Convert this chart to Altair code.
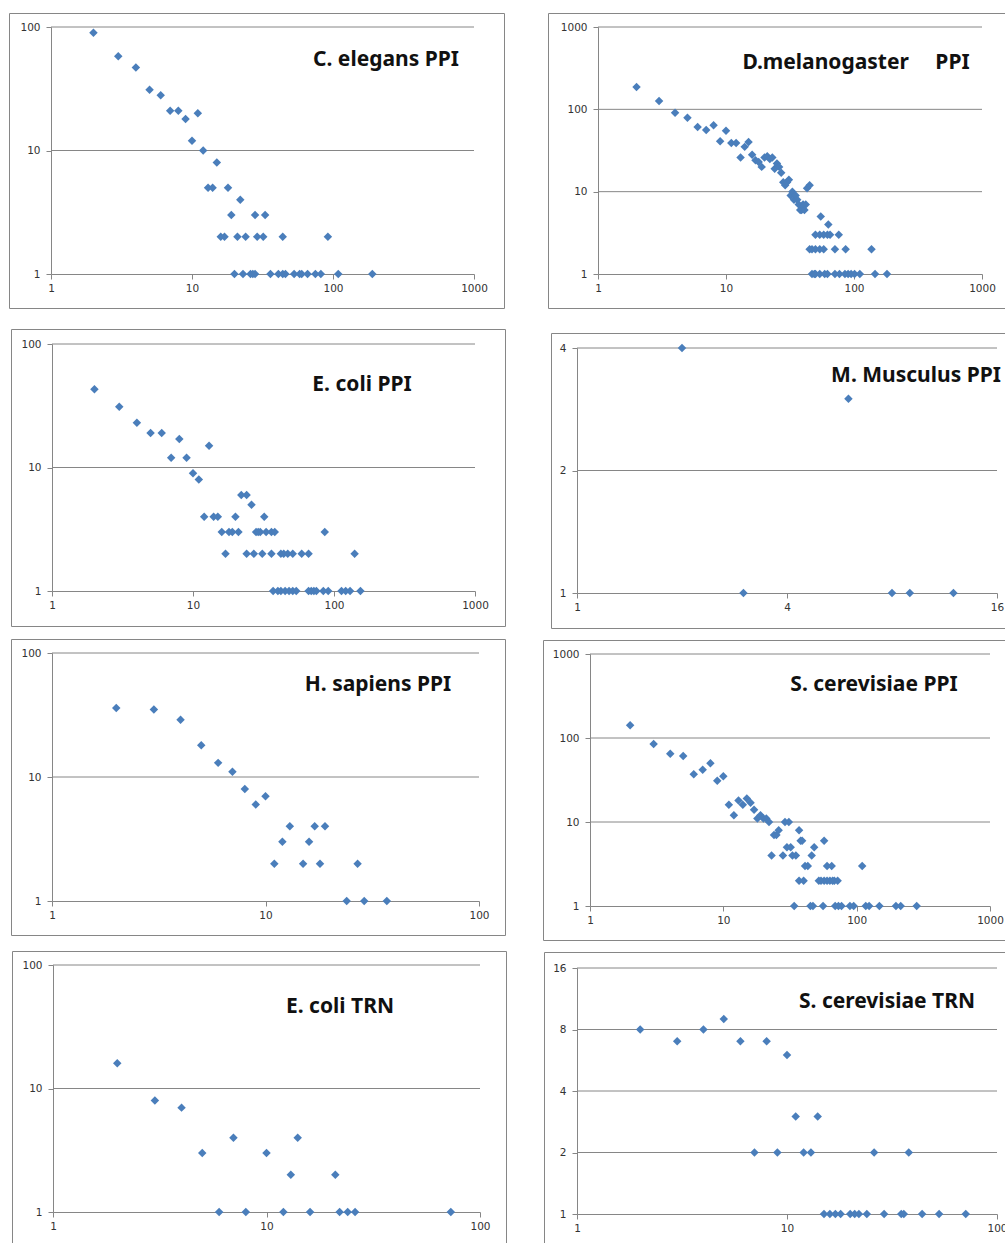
import altair as alt
import pandas as pd

# ---------------- data ----------------
ce_x = [2, 3, 4, 5, 6, 7, 8, 9, 10, 11, 12, 13, 14, 15, 16, 17, 18, 19, 21, 22, 24, 28, 29, 32, 33, 44, 92,
        20, 23, 26, 27, 28, 36, 41, 44, 46, 53, 58, 60, 66, 75, 82, 109, 190]
ce_y = [90, 58, 47, 31, 28, 21, 21, 18, 12, 20, 10, 5, 5, 8, 2, 2, 5, 3, 2, 4, 2, 3, 2, 2, 3, 2, 2,
        1, 1, 1, 1, 1, 1, 1, 1, 1, 1, 1, 1, 1, 1, 1, 1, 1]

dm_x = [2, 3, 4, 5, 6, 7, 8, 9, 10, 11, 12, 13, 14, 15, 16, 17, 18, 19, 20, 21, 22, 23, 24, 25, 26, 27,
        28, 29, 30, 31, 32, 33, 34, 35, 36, 37, 38, 39, 40, 41, 42, 43, 45, 55, 63,
        50, 54, 58, 62, 65, 76,
        45, 47, 50, 54, 58, 71, 86, 137,
        47, 49, 50, 54, 59, 62, 71, 77, 85, 90, 95, 101, 111, 146, 181]
dm_y = [187, 126, 91, 79, 61, 56, 64, 41, 55, 39, 39, 26, 35, 40, 28, 24, 23, 20, 26, 27, 25, 26, 19, 22, 20, 17,
        13, 12, 13, 14, 9, 10, 8, 9, 8, 7, 6, 6, 7, 6, 7, 11, 12, 5, 4,
        3, 3, 3, 3, 3, 3,
        2, 2, 2, 2, 2, 2, 2, 2,
        1, 1, 1, 1, 1, 1, 1, 1, 1, 1, 1, 1, 1, 1, 1]

ecp_x = [2, 3, 4, 5, 6, 7, 8, 9, 10, 11, 12, 13, 14, 15, 16, 17, 18, 19, 20, 21, 22, 24, 24, 26, 27, 28,
         29, 30, 31, 32, 33, 36, 36, 38, 42, 44, 47, 51, 59, 66, 86, 140,
         37, 40, 42, 45, 48, 51, 54, 66, 69, 72, 75, 84, 91, 113, 121, 130, 154]
ecp_y = [43, 31, 23, 19, 19, 12, 17, 12, 9, 8, 4, 15, 4, 4, 3, 2, 3, 3, 4, 3, 6, 6, 2, 5, 2, 3,
         3, 3, 2, 4, 3, 3, 2, 3, 2, 2, 2, 2, 2, 2, 3, 2,
         1, 1, 1, 1, 1, 1, 1, 1, 1, 1, 1, 1, 1, 1, 1, 1, 1]

mm_x = [2, 3, 6, 8, 9, 12]
mm_y = [4, 1, 3, 1, 1, 1]

hs_x = [2, 3, 4, 5, 6, 7, 8, 9, 10, 11, 12, 13, 15, 16, 17, 18, 19, 24, 27, 29, 37]
hs_y = [36, 35, 29, 18, 13, 11, 8, 6, 7, 2, 3, 4, 2, 3, 4, 2, 4, 1, 2, 1, 1]

scp_x = [2, 3, 4, 5, 6, 7, 8, 9, 10, 11, 12, 13, 14, 15, 16, 17, 18, 19, 20, 21, 22, 23, 24, 25, 26,
         28, 29, 30, 31, 32, 33, 35, 37, 38, 39, 41, 43, 37, 40, 46, 48, 57,
         52, 54, 57, 60, 63, 66, 68, 72,
         60, 65, 110,
         34, 45, 47, 56, 69, 73, 77, 89, 95, 117, 124, 148, 197, 214, 282]
scp_y = [142, 85, 65, 61, 37, 42, 50, 31, 35, 16, 12, 18, 16, 19, 17, 14, 11, 12, 11, 11, 10, 4, 7, 7, 8,
         4, 10, 5, 10, 5, 4, 4, 8, 6, 6, 3, 3, 2, 2, 4, 5, 6,
         2, 2, 2, 2, 2, 2, 2, 2,
         3, 3, 3,
         1, 1, 1, 1, 1, 1, 1, 1, 1, 1, 1, 1, 1, 1, 1]

ect_x = [2, 3, 4, 5, 6, 7, 8, 10, 12, 13, 14, 16, 21, 22, 24, 26, 73]
ect_y = [16, 8, 7, 3, 1, 4, 1, 3, 1, 2, 4, 1, 2, 1, 1, 1, 1]

sct_x = [2, 3, 4, 5, 6, 8, 10, 7, 9, 11, 12, 13, 14, 26, 38,
         15, 16, 17, 18, 20, 21, 22, 24, 29, 35, 36, 44, 53, 71]
sct_y = [8, 7, 8, 9, 7, 7, 6, 2, 2, 3, 2, 2, 3, 2, 2,
         1, 1, 1, 1, 1, 1, 1, 1, 1, 1, 1, 1, 1, 1]

titles = ["C. elegans PPI", "D.melanogaster\u3000 PPI", "E. coli PPI", "M. Musculus PPI",
          "H. sapiens PPI", "S. cerevisiae PPI", "E. coli TRN", "S. cerevisiae TRN"]

ticks_1000 = [1, 10, 100, 1000]
ticks_100 = [1, 10, 100]

# ---------------- layout (pixels) ----------------
H_TOTAL = 1243
panels = [
    dict(t=titles[0], x=ce_x, y=ce_y, xd=[1, 1000], yd=[1, 100], xt=ticks_1000, yt=ticks_100,
         plot=(51, 474, 27, 274), box=(9.5, 504.5, 13.5, 308.5), tp=(386, 66)),
    dict(t=titles[1], x=dm_x, y=dm_y, xd=[1, 1000], yd=[1, 1000], xt=ticks_1000, yt=ticks_1000,
         plot=(598, 982, 27, 274), box=(548.5, 1012, 13.5, 308.5), tp=(856, 69)),
    dict(t=titles[2], x=ecp_x, y=ecp_y, xd=[1, 1000], yd=[1, 100], xt=ticks_1000, yt=ticks_100,
         plot=(52, 475, 344, 591), box=(11.5, 505.5, 329.5, 626.5), tp=(362, 391)),
    dict(t=titles[3], x=mm_x, y=mm_y, xd=[1, 16], yd=[1, 4], xt=[1, 4, 16], yt=[1, 2, 4],
         plot=(577, 997, 348, 593), box=(551.5, 1012, 333.5, 628.5), tp=(916, 382)),
    dict(t=titles[4], x=hs_x, y=hs_y, xd=[1, 100], yd=[1, 100], xt=ticks_100, yt=ticks_100,
         plot=(52, 479, 653, 901), box=(11.5, 505.5, 639.5, 935.5), tp=(378, 691)),
    dict(t=titles[5], x=scp_x, y=scp_y, xd=[1, 1000], yd=[1, 1000], xt=ticks_1000, yt=ticks_1000,
         plot=(590, 990, 654, 906), box=(543.5, 1012, 640.5, 940.5), tp=(874, 691)),
    dict(t=titles[6], x=ect_x, y=ect_y, xd=[1, 100], yd=[1, 100], xt=ticks_100, yt=ticks_100,
         plot=(53, 480, 965, 1212), box=(12.5, 506.5, 951.5, 1260), tp=(340, 1013)),
    dict(t=titles[7], x=sct_x, y=sct_y, xd=[1, 100], yd=[1, 16], xt=ticks_100, yt=[1, 2, 4, 8, 16],
         plot=(577, 997, 968, 1214), box=(544.5, 1012, 952.5, 1260), tp=(887, 1008)),
]

BLUE = "#4A7EBB"
GRAY = "#868686"


def make_panel(p):
    x0, x1, ytop, ybot = p["plot"]
    xsc = alt.Scale(type="log", domain=p["xd"], range=[x0, x1], nice=False)
    ysc = alt.Scale(type="log", domain=p["yd"], range=[ybot, ytop], nice=False)
    xax = alt.Axis(values=p["xt"], format="d", orient="bottom", offset=ybot - H_TOTAL,
                   title=None, grid=False, labelPadding=4)
    yax = alt.Axis(values=p["yt"], format="d", orient="left", offset=-x0,
                   title=None, grid=False, labelPadding=6)

    pts = pd.DataFrame({"x": p["x"], "y": p["y"]})
    grid = pd.DataFrame({"g": p["yt"][1:], "a": p["xd"][0], "b": p["xd"][1]})

    rules = alt.Chart(grid).mark_rule(color=GRAY, strokeWidth=1).encode(
        y=alt.Y("g:Q", scale=ysc, axis=yax),
        x=alt.X("a:Q", scale=xsc, axis=xax),
        x2="b:Q",
    )
    marks = alt.Chart(pts).mark_point(shape="diamond", filled=True, color=BLUE,
                                      size=72, opacity=1).encode(
        x=alt.X("x:Q", scale=xsc, axis=xax),
        y=alt.Y("y:Q", scale=ysc, axis=yax),
    )
    bx0, bx1, by0, by1 = p["box"]
    border = alt.Chart(pd.DataFrame({"k": [0]})).mark_rect(
        fillOpacity=0, stroke=GRAY, strokeWidth=1).encode(
        x=alt.value(bx0), x2=alt.value(bx1), y=alt.value(by0), y2=alt.value(by1))
    title = alt.Chart(pd.DataFrame({"t": [p["t"]]})).mark_text(
        align="center", baseline="alphabetic", font="Noto Sans", fontWeight="bold",
        fontSize=21, color="#111111").encode(
        text="t:N", x=alt.value(p["tp"][0]), y=alt.value(p["tp"][1]))
    return alt.layer(border, rules, marks, title)


chart = alt.layer(*[make_panel(p) for p in panels]).resolve_scale(
    x="independent", y="independent"
).resolve_axis(
    x="independent", y="independent"
).properties(
    width=1005, height=H_TOTAL, padding=0,
    autosize=alt.AutoSizeParams(type="none"),
    background="white",
).configure_view(stroke=None).configure_axis(
    domainColor=GRAY, tickColor=GRAY, tickSize=5, labelColor="#333333",
    labelFont="DejaVu Sans", labelFontSize=10.5, labelFlush=False, labelOverlap=False,
    labelBound=False,
)

chart.save("out.html", embed_options={"renderer": "svg", "actions": False})
